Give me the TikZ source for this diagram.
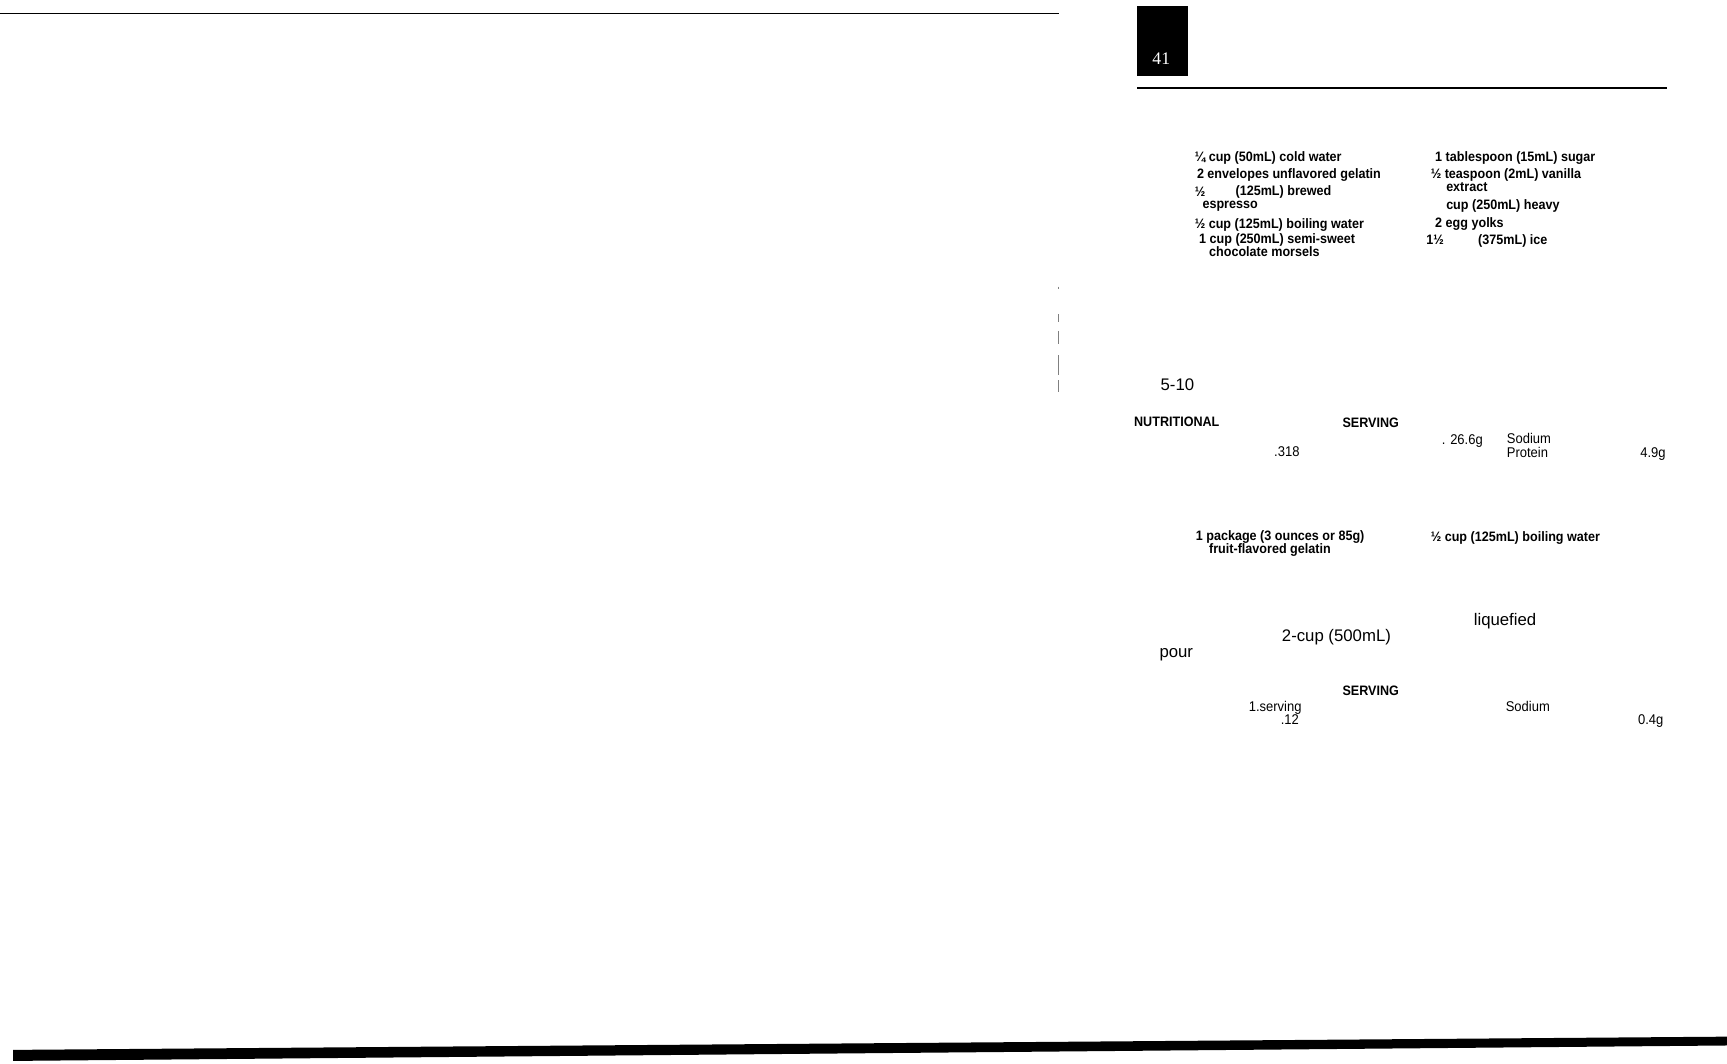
\documentclass[tikz,border=0pt]{standalone}
\usepackage{fontspec}
\setmainfont{Liberation Sans}
\newfontfamily\cond[FakeStretch=0.92]{Liberation Sans}
\newfontfamily\serifnum{Liberation Serif}
\begin{document}
\begin{tikzpicture}[x=0.5pt,y=-0.5pt,
  ing/.style={anchor=base west,inner sep=0pt,font=\cond\fontsize{6.2}{7}\selectfont\bfseries},
  reg/.style={anchor=base west,inner sep=0pt,font=\cond\fontsize{6.4}{7}\selectfont},
  big/.style={anchor=base west,inner sep=0pt,font=\fontsize{7.6}{8}\selectfont}]
\useasboundingbox[fill=white] (0,0) rectangle (1566,964);
\draw[line width=0.6pt] (0,12) -- (960,12);
\fill (1031,5) rectangle (1077,69);
\node[text=white,font=\serifnum\fontsize{8}{9}\selectfont] (pg) at (1053,53) {41};
\draw[line width=1pt] (1031,80) -- (1512,80);
\fill (12,952) -- (1566,940) -- (1566,948) -- (12,962) -- cycle;
% small marks
\foreach \a/\b in {260/262,285/292,300/312,322/340,345/355}{\draw[line width=0.4pt,gray] (960,\a) -- (960,\b);}
% left column
\node[ing] (a1) at (1083,146) {¼ cup (50mL) cold water};
\node[ing] (a2) at (1085,162) {2 envelopes unflavored gelatin};
\node[ing] (a3) at (1083,178) {½};
\node[ing] (a3b) at (1120,177) {(125mL) brewed};
\node[ing] (a4) at (1090,189) {espresso};
\node[ing] (a5) at (1083,207) {½ cup (125mL) boiling water};
\node[ing] (a6) at (1087,221) {1 cup (250mL) semi-sweet};
\node[ing] (a7) at (1096,233) {chocolate morsels};
% right column
\node[ing] (b1) at (1301,146) {1 tablespoon (15mL) sugar};
\node[ing] (b2) at (1297,162) {½ teaspoon (2mL) vanilla};
\node[ing] (b3) at (1311,174) {extract};
\node[ing] (b4) at (1311,190) {cup (250mL) heavy};
\node[ing] (b5) at (1301,206) {2 egg yolks};
\node[ing] (b6) at (1293,222) {1½};
\node[ing] (b6b) at (1340,222) {(375mL) ice};
% middle
\node[big] (t1) at (1052,354) {5-10};
\node[ing] (n1) at (1028,387) {NUTRITIONAL};
\node[ing] (n2) at (1217,388) {SERVING};
\node[reg] (n3) at (1307,403) {. 26.6g};
\node[reg] (n4) at (1366,402) {Sodium};
\node[reg] (n5) at (1155,414) {.318};
\node[reg] (n6) at (1366,415) {Protein};
\node[reg] (n7) at (1487,415) {4.9g};
% second recipe
\node[ing] (c1) at (1084,490) {1 package (3 ounces or 85g)};
\node[ing] (c2) at (1096,502) {fruit-flavored gelatin};
\node[ing] (c3) at (1297,491) {½ cup (125mL) boiling water};
\node[big] (d1) at (1336,567) {liquefied};
\node[big] (d2) at (1162,582) {2-cup (500mL)};
\node[big] (d3) at (1051,596) {pour};
\node[ing] (e1) at (1217,631) {SERVING};
\node[reg] (e2) at (1132,645) {1.serving};
\node[reg] (e3) at (1161,657) {.12};
\node[reg] (e4) at (1365,645) {Sodium};
\node[reg] (e5) at (1485,657) {0.4g};
\end{tikzpicture}
\end{document}
